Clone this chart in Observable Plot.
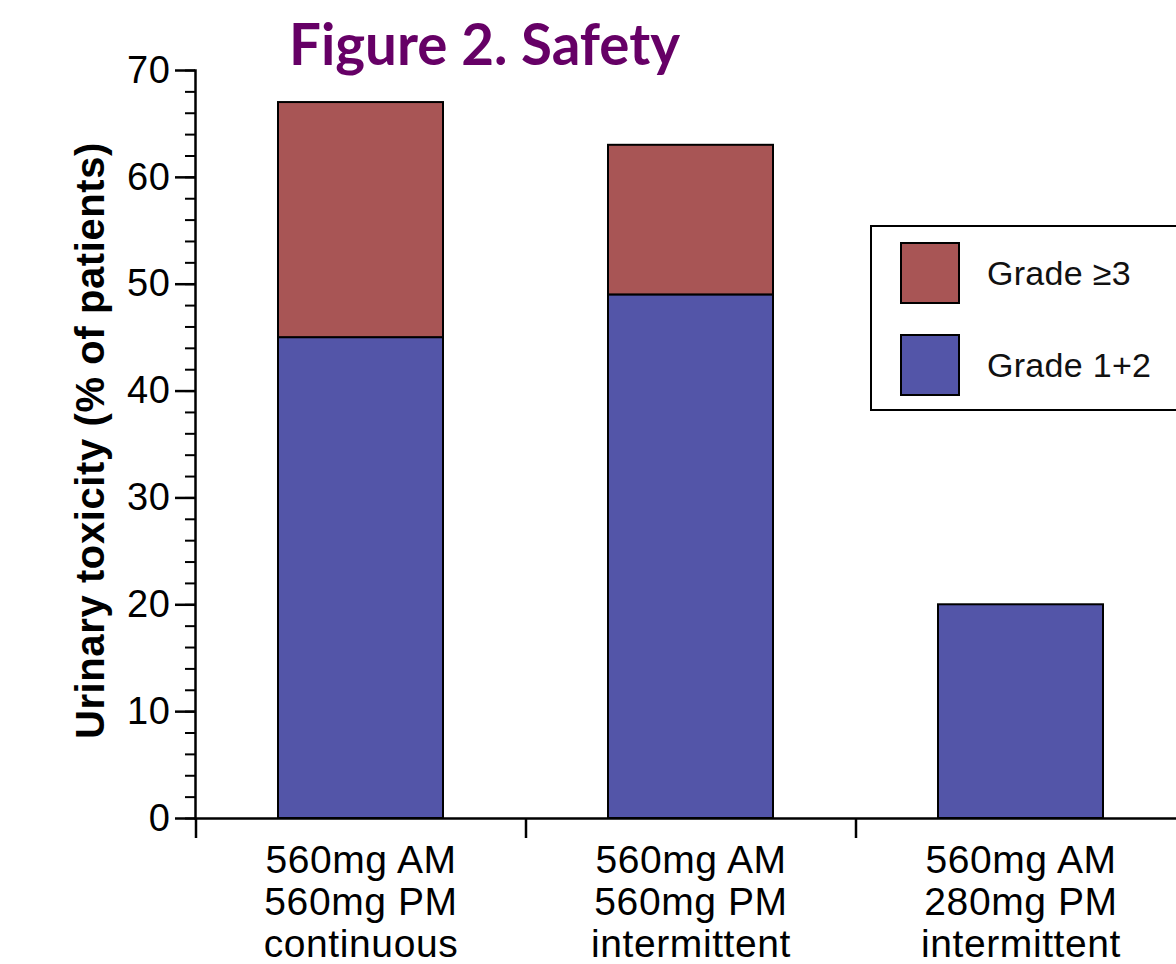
<!DOCTYPE html>
<html>
<head>
<meta charset="utf-8">
<script src="https://cdn.jsdelivr.net/npm/d3@7"></script>
<script src="https://cdn.jsdelivr.net/npm/@observablehq/plot@0.6"></script>
<style>
  html, body { margin: 0; padding: 0; background: #fff; overflow: hidden; }
  #wrap { position: relative; width: 1176px; height: 964px; overflow: hidden; font-family: "Liberation Sans", Arial, sans-serif; }
  #title { position: absolute; left: 289px; top: 15px; font-family: Lato, "Open Sans", sans-serif; font-weight: 700; font-size: 56.5px; line-height: 1; color: #660066; white-space: nowrap; }
  #legend { position: absolute; left: 870px; top: 225px; width: 330px; height: 186px; border: 2px solid #000; background: #fff; box-sizing: border-box; }
  .lg-item { position: absolute; left: 28px; display: flex; align-items: center; }
  .lg-sw { width: 60px; height: 62px; border: 2px solid #000; box-sizing: border-box; }
  .lg-tx { margin-left: 27px; font-size: 34px; color: #111; letter-spacing: 0.3px; }
</style>
</head>
<body>
<div id="wrap">
  <div id="chart"></div>
  <div id="title">Figure 2. Safety</div>
  <div id="legend"></div>
</div>
<script>
// ---- data ----
const categories = [
  "560mg AM\n560mg PM\ncontinuous",
  "560mg AM\n560mg PM\nintermittent",
  "560mg AM\n280mg PM\nintermittent"
];
const grade12 = [45, 49, 20];
const grade3plus = [22, 14, 0];
const seriesNames = ["Grade 1+2", "Grade ≥3"];
const seriesColors = ["#5355a8", "#a85555"];
const legendOrder = ["Grade ≥3", "Grade 1+2"];
const majorTicks = [0, 10, 20, 30, 40, 50, 60, 70];
const minorTicks = [0, 2, 4, 6, 8, 10, 12, 14, 16, 18, 20, 22, 24, 26, 28, 30, 32, 34, 36, 38, 40, 42, 44, 46, 48, 50, 52, 54, 56, 58, 60, 62, 64, 66, 68, 70];
const yLabel = "Urinary toxicity (% of patients)";

// ---- table ----
const rows = categories.flatMap((c, i) => [
  {cat: c, grade: seriesNames[0], value: grade12[i]},
  {cat: c, grade: seriesNames[1], value: grade3plus[i]}
]).filter(d => d.value > 0);

const W = 1176, H = 964, mL = 195, mR = -9, mT = 70, mB = 146;
const step = (W - mL - mR) / categories.length;

const chart = Plot.plot({
  width: W, height: H,
  marginLeft: mL, marginRight: mR, marginTop: mT, marginBottom: mB,
  style: {fontFamily: "'Liberation Sans', Arial, sans-serif", color: "black", background: "transparent", overflow: "visible", letterSpacing: "0.6px"},
  x: {domain: categories, paddingInner: 0.5, paddingOuter: 0.25, axis: null},
  y: {domain: [0, 70], axis: null},
  color: {domain: seriesNames, range: seriesColors},
  marks: [
    Plot.barY(rows, {x: "cat", y: "value", fill: "grade", stroke: "black", strokeWidth: 2}),
    Plot.axisY({ticks: minorTicks, tickSize: 10, tickFormat: () => "", label: null, strokeWidth: 2}),
    Plot.axisY({ticks: majorTicks, tickSize: 20, tickPadding: 5, fontSize: 38, label: null, strokeWidth: 2.5}),
    Plot.axisX({tickSize: 0, tickPadding: 25, fontSize: 39, lineHeight: 1.07, label: null}),
    Plot.axisX({tickSize: 20, tickFormat: () => "", label: null, dx: -step / 2, strokeWidth: 2.5}),
    Plot.ruleY([0], {strokeWidth: 2.5}),
    Plot.frame({anchor: "left", strokeWidth: 2.5}),
    Plot.text([yLabel], {frameAnchor: "left", textAnchor: "middle", dx: -104, dy: -4, rotate: -90, fontSize: 40, fontWeight: "bold", fill: "black"})
  ]
});
document.getElementById("chart").appendChild(chart);

// ---- legend ----
const leg = document.getElementById("legend");
const legTops = [15, 107];
legendOrder.forEach((name, i) => {
  const item = document.createElement("div");
  item.className = "lg-item";
  item.style.top = legTops[i] + "px";
  const sw = document.createElement("div");
  sw.className = "lg-sw";
  sw.style.background = chart.scale("color").apply(name);
  const tx = document.createElement("div");
  tx.className = "lg-tx";
  tx.textContent = name;
  item.appendChild(sw);
  item.appendChild(tx);
  leg.appendChild(item);
});
</script>
</body>
</html>
